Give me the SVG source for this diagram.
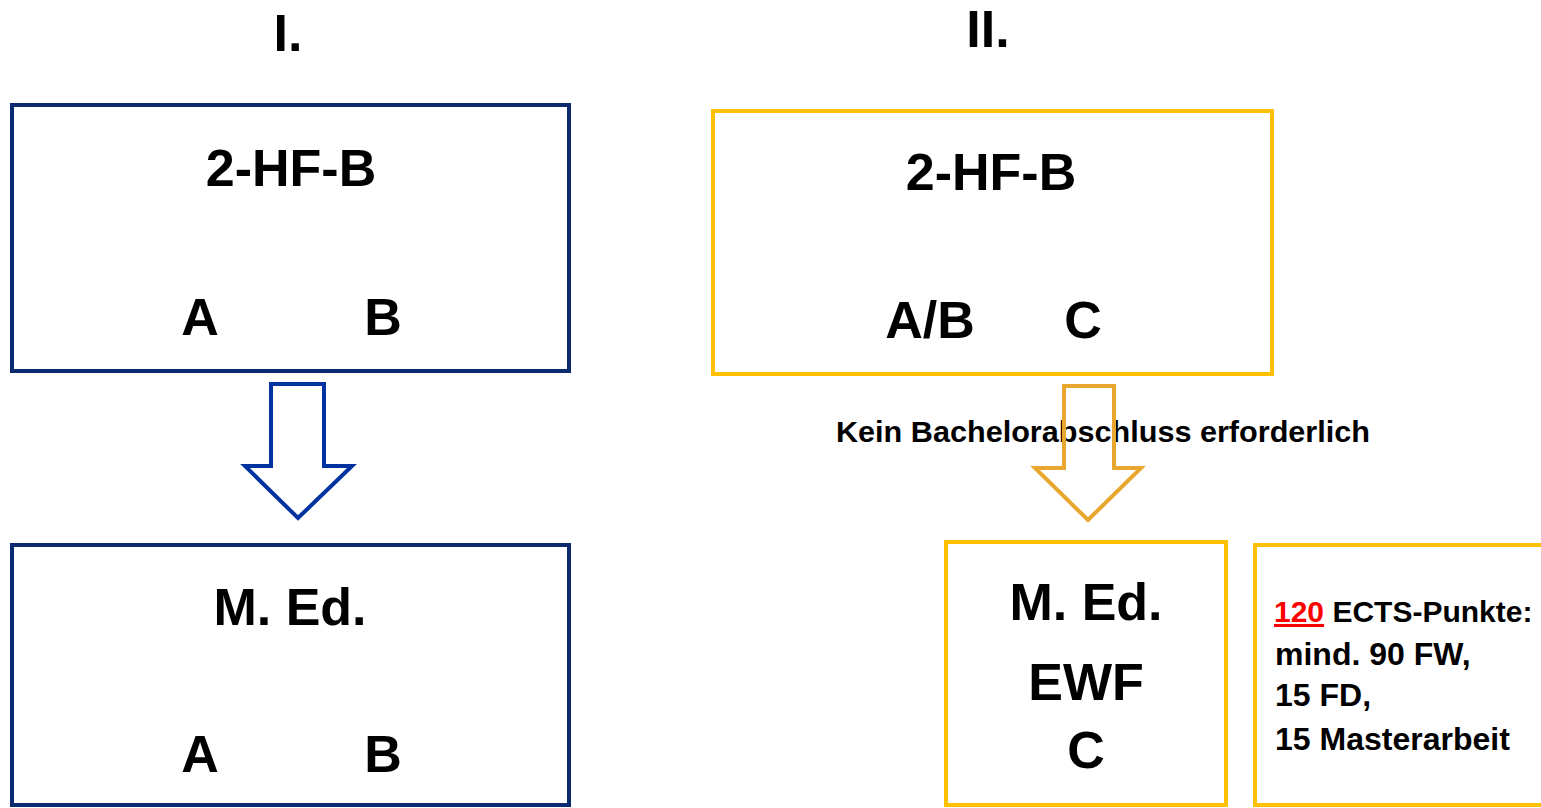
<svg xmlns="http://www.w3.org/2000/svg" width="1541" height="808" viewBox="0 0 1541 808">
<style>
  text { font-family: "Liberation Sans", Arial, sans-serif; font-weight: bold; fill: #000; }
  .big { font-size: 52px; text-anchor: middle; }
  .navy { fill: #fff; stroke: #0B2A6F; stroke-width: 4; }
  .gold { fill: #fff; stroke: #FFC000; stroke-width: 4; }
  .lbl { font-size: 30px; }
  .info { font-size: 32px; }
</style>
<rect width="1541" height="808" fill="#fff"/>
<text class="big" x="288" y="51">I.</text>
<text class="big" x="988" y="47">II.</text>

<g id="left-top">
  <rect class="navy" x="12" y="105" width="557" height="266"/>
  <text class="big" x="291" y="186">2-HF-B</text>
  <text class="big" x="200" y="335">A</text>
  <text class="big" x="383" y="335">B</text>
</g>

<g id="left-bottom">
  <rect class="navy" x="12" y="545" width="557" height="260"/>
  <text class="big" x="290" y="625">M. Ed.</text>
  <text class="big" x="200" y="772">A</text>
  <text class="big" x="383" y="772">B</text>
</g>

<g id="right-top">
  <rect class="gold" x="713" y="111" width="559" height="263"/>
  <text class="big" x="991" y="190">2-HF-B</text>
  <text class="big" x="930" y="338">A/B</text>
  <text class="big" x="1083" y="338">C</text>
</g>

<g id="right-bottom">
  <rect class="gold" x="946" y="542" width="280" height="263"/>
  <text class="big" x="1086" y="620">M. Ed.</text>
  <text class="big" x="1086" y="700">EWF</text>
  <text class="big" x="1086" y="768">C</text>
</g>

<g id="info-box">
  <rect class="gold" x="1255" y="545" width="300" height="260"/>
  <text class="info" x="1274" y="622" style="font-size:30px"><tspan fill="#FF0000" text-decoration="underline">120</tspan> ECTS-Punkte:</text>
  <text class="info" x="1275" y="665">mind. 90 FW,</text>
  <text class="info" x="1275" y="706">15 FD,</text>
  <text class="info" x="1275" y="750">15 Masterarbeit</text>
</g>

<g id="label">
  <text class="lbl" x="836" y="442" textLength="534" lengthAdjust="spacingAndGlyphs">Kein Bachelorabschluss erforderlich</text>
</g>

<g id="connectors">
  <path d="M271,384 H324 V466 H352 L298,518 L245,466 H271 Z" fill="none" stroke="#0033A0" stroke-width="4" stroke-linejoin="miter"/>
  <path d="M1064,386 H1114 V468 H1141 L1088,520 L1035,468 H1064 Z" fill="none" stroke="#E8A830" stroke-width="4" stroke-linejoin="miter"/>
</g>
</svg>
